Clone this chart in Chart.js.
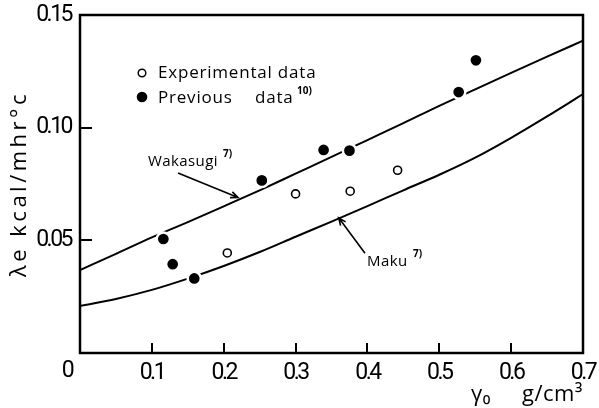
<!DOCTYPE html>
<html>
<head>
<meta charset="utf-8">
<script src="https://cdn.jsdelivr.net/npm/chart.js@4.4.1/dist/chart.umd.min.js"></script>
<style>
  html, body { margin: 0; padding: 0; background: #fff; }
  #wrap { width: 599px; height: 408px; }
</style>
</head>
<body>
<div id="wrap"><canvas id="c" width="599" height="408"></canvas></div>
<script>
// Bulk density of the packed bed (g/cm3)
const gamma = [0, 0.05, 0.10, 0.15, 0.20, 0.25, 0.30, 0.35, 0.40, 0.45, 0.50, 0.55, 0.60, 0.65, 0.70];
// Effective thermal conductivity predicted by the two correlations (kcal/m hr °C)
const wakasugi = [0.0368, 0.0440, 0.0513, 0.0581, 0.0651, 0.0722, 0.0796, 0.0870, 0.0945, 0.1020, 0.1097, 0.1170, 0.1243, 0.1315, 0.1386];
const maku     = [0.0209, 0.0240, 0.0280, 0.0330, 0.0386, 0.0448, 0.0516, 0.0583, 0.0652, 0.0722, 0.0791, 0.0867, 0.0955, 0.1050, 0.1149];

// Measured points
const expX  = [0.205, 0.300, 0.376, 0.442];
const expY  = [0.0444, 0.0706, 0.0718, 0.0811];
const prevX = [0.116, 0.129, 0.159, 0.253, 0.339, 0.375, 0.527, 0.551];
const prevY = [0.0506, 0.0394, 0.0331, 0.0766, 0.0901, 0.0898, 0.1158, 0.1299];

// Axis tick labels
const xTickLabels = ['0', '0.1', '0.2', '0.3', '0.4', '0.5', '0.6', '0.7'];
const yTickLabels = ['0', '0.05', '0.10', '0.15'];

const pts = (xs, ys) => xs.map((v, i) => ({ x: v, y: ys[i] }));

const NUM = "Roboto, 'DejaVu Sans', sans-serif";
const TEXT = "'Open Sans', 'DejaVu Sans', sans-serif";

function arrow(ctx, x0, y0, x1, y1) {
  ctx.beginPath();
  ctx.moveTo(x0, y0);
  ctx.lineTo(x1, y1);
  const ang = Math.atan2(y1 - y0, x1 - x0);
  const L = 8, w = 0.4;
  ctx.moveTo(x1 - L * Math.cos(ang - w), y1 - L * Math.sin(ang - w));
  ctx.lineTo(x1, y1);
  ctx.lineTo(x1 - L * Math.cos(ang + w), y1 - L * Math.sin(ang + w));
  ctx.stroke();
}

// Tight numerals on the axes, wider spacing in the axis titles
function spaceTitle(scale, spacing) {
  if (scale._spaced) return;
  const orig = scale.drawTitle;
  scale.drawTitle = function () {
    const c = this.ctx, prev = c.letterSpacing;
    c.letterSpacing = spacing;
    orig.apply(this, arguments);
    c.letterSpacing = prev;
  };
  scale._spaced = true;
}

const decorations = {
  id: 'decorations',
  beforeDraw(chart) {
    spaceTitle(chart.scales.y, '3.5px');
    spaceTitle(chart.scales.x, '0.5px');
    chart.ctx.letterSpacing = '-2.5px';
  },
  afterDraw(chart) {
    const { ctx, chartArea: a, scales: { x, y } } = chart;
    ctx.save();
    ctx.strokeStyle = '#000';
    ctx.fillStyle = '#000';
    ctx.lineCap = 'butt';

    // frame
    ctx.lineWidth = 2.5;
    ctx.strokeRect(a.left, a.top, a.right - a.left, a.bottom - a.top);

    // inward tick marks
    ctx.lineWidth = 2;
    x.ticks.forEach(t => {
      if (t.value <= 0 || t.value >= 0.7 - 1e-9) return;
      const px = Math.round(x.getPixelForValue(t.value));
      ctx.beginPath(); ctx.moveTo(px, a.bottom); ctx.lineTo(px, a.bottom - 10); ctx.stroke();
    });
    y.ticks.forEach(t => {
      if (t.value <= 0 || t.value >= 0.15 - 1e-9) return;
      const py = Math.round(y.getPixelForValue(t.value));
      ctx.beginPath(); ctx.moveTo(a.left, py); ctx.lineTo(a.left + 12, py); ctx.stroke();
    });

    // origin label
    ctx.font = "23px " + NUM;
    ctx.textAlign = 'center';
    ctx.textBaseline = 'middle';
    ctx.fillText(xTickLabels[0], x.getPixelForValue(0) - 13, a.bottom + 18);

    // legend
    ctx.letterSpacing = '0.8px';
    ctx.lineWidth = 1.5;
    const lx = a.left + 62;
    ctx.beginPath(); ctx.arc(lx, 73, 3.8, 0, Math.PI * 2); ctx.stroke();
    ctx.beginPath(); ctx.arc(lx, 97, 5.3, 0, Math.PI * 2); ctx.fill();
    ctx.textAlign = 'left';
    ctx.font = "17px " + TEXT;
    ctx.fillText('Experimental data', lx + 16, 73);
    ctx.fillText('Previous', lx + 16, 98);
    ctx.fillText('data', lx + 113, 98);
    ctx.letterSpacing = '0px';
    ctx.font = "bold 10px " + TEXT;
    ctx.fillText('10)', lx + 155, 91);

    // curve labels with leader arrows
    ctx.lineWidth = 1.6;
    arrow(ctx, x.getPixelForValue(0.1364), y.getPixelForValue(0.0799),
               x.getPixelForValue(0.2199), y.getPixelForValue(0.0690));
    arrow(ctx, x.getPixelForValue(0.3966), y.getPixelForValue(0.0443),
               x.getPixelForValue(0.3600), y.getPixelForValue(0.0600));
    ctx.letterSpacing = '0.4px';
    ctx.font = "15px " + TEXT;
    ctx.fillText('Wakasugi', 148, 162);
    ctx.fillText('Maku', 367, 262);
    ctx.letterSpacing = '0px';
    ctx.font = "bold 10px " + TEXT;
    ctx.fillText('7)', 223, 154);
    ctx.fillText('7)', 413, 254);
    ctx.restore();
  }
};

new Chart(document.getElementById('c'), {
  type: 'scatter',
  data: {
    datasets: [
      { label: 'Wakasugi', data: pts(gamma, wakasugi), showLine: true, borderColor: '#000', borderWidth: 2,
        pointRadius: 0, tension: 0.4, cubicInterpolationMode: 'monotone', order: 3 },
      { label: 'Maku', data: pts(gamma, maku), showLine: true, borderColor: '#000', borderWidth: 2,
        pointRadius: 0, tension: 0.4, cubicInterpolationMode: 'monotone', order: 3 },
      { label: 'Experimental data', data: pts(expX, expY), pointRadius: 4, borderWidth: 1.6,
        borderColor: '#000', backgroundColor: '#fff', order: 1 },
      { label: 'Previous data', data: pts(prevX, prevY), pointRadius: 6.6, borderWidth: 2.5,
        borderColor: '#fff', backgroundColor: '#000', order: 1 }
    ]
  },
  options: {
    responsive: false,
    animation: false,
    events: [],
    layout: { padding: { top: 15, right: 16, left: 0, bottom: 0 } },
    plugins: { legend: { display: false }, tooltip: { enabled: false } },
    scales: {
      x: {
        type: 'linear', min: 0, max: 0.7,
        border: { display: false },
        grid: { display: false, drawTicks: false },
        ticks: {
          stepSize: 0.1, padding: 6, color: '#000',
          font: { family: NUM, size: 23 },
          callback: (v) => { const i = Math.round(v * 10); return i === 0 ? '' : xTickLabels[i]; }
        },
        title: {
          display: true, text: 'γ₀     g/cm³', align: 'end', color: '#000',
          font: { family: TEXT, size: 22 }, padding: { top: -7, bottom: 0 }
        },
        afterFit: (s) => { s.height = 55; s.paddingLeft = 0; s.paddingRight = 0; }
      },
      y: {
        type: 'linear', min: 0, max: 0.15,
        border: { display: false },
        grid: { display: false, drawTicks: false },
        ticks: {
          stepSize: 0.05, padding: 9, color: '#000',
          font: { family: NUM, size: 23 },
          callback: (v) => { const i = Math.round(v / 0.05); return i === 0 ? '' : yTickLabels[i]; }
        },
        title: {
          display: true, text: 'λe kcal/mhr°c', color: '#000',
          font: { family: TEXT, size: 22 }, padding: { top: 7, bottom: 0 }
        },
        afterFit: (s) => { s.width = 80; s.paddingTop = 0; s.paddingBottom = 0; }
      }
    }
  },
  plugins: [decorations]
});
</script>
</body>
</html>
